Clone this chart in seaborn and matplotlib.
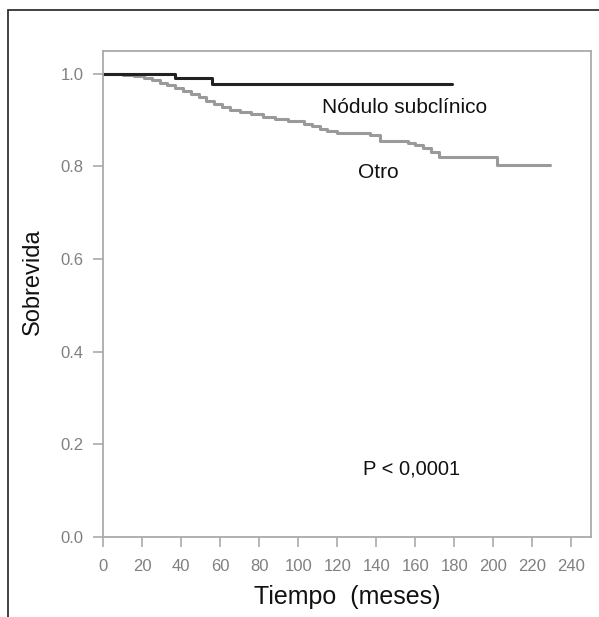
import matplotlib
matplotlib.use("Agg")
import matplotlib.pyplot as plt
from matplotlib.patches import Rectangle
import seaborn as sns
import pandas as pd

# Data
nodulo_t = [0, 37, 56, 179]
nodulo_s = [1.0, 0.991, 0.978, 0.978]

otro_t = [0, 10, 16, 21, 25, 29, 33, 37, 41, 45, 49, 53, 57, 61, 65, 70, 76, 82, 88, 95,
          103, 107, 111, 115, 120, 137, 142, 156, 160, 164, 168, 172, 202, 229]
otro_s = [1.0, 0.998, 0.995, 0.991, 0.986, 0.981, 0.975, 0.969, 0.963, 0.956,
          0.949, 0.942, 0.935, 0.929, 0.923, 0.918, 0.913, 0.907, 0.902, 0.898,
          0.892, 0.887, 0.882, 0.877, 0.873, 0.868, 0.855, 0.851, 0.846, 0.840,
          0.832, 0.820, 0.803, 0.803]

x_ticks = [0, 20, 40, 60, 80, 100, 120, 140, 160, 180, 200, 220, 240]
y_ticks = [0.0, 0.2, 0.4, 0.6, 0.8, 1.0]
y_ticklabels = ["0.0", "0.2", "0.4", "0.6", "0.8", "1.0"]

sns.set_style("ticks")
plt.rcParams["font.family"] = ["Liberation Sans", "DejaVu Sans"]

fig = plt.figure(figsize=(5.99, 6.17), dpi=100)
ax = fig.add_axes([103 / 599, 1 - 537 / 617, (591 - 103) / 599, (537 - 50.7) / 617])

df_n = pd.DataFrame({"t": nodulo_t, "s": nodulo_s})
df_o = pd.DataFrame({"t": otro_t, "s": otro_s})

sns.lineplot(data=df_o, x="t", y="s", ax=ax, color="#9a9a9a", linewidth=2.2,
             drawstyle="steps-post", estimator=None, sort=False)
sns.lineplot(data=df_n, x="t", y="s", ax=ax, color="#222222", linewidth=2.2,
             drawstyle="steps-post", estimator=None, sort=False)

ax.set_xlim(0, 250)
ax.set_ylim(0, 1.05)
ax.set_xticks(x_ticks)
ax.set_yticks(y_ticks)
ax.set_yticklabels(y_ticklabels)

for sp in ax.spines.values():
    sp.set_color("#aaaaaa")
    sp.set_linewidth(1.3)

ax.tick_params(axis="both", colors="#aaaaaa", length=7, width=1.2, labelsize=12,
               labelcolor="#808080")
ax.tick_params(axis="x", pad=9)
ax.tick_params(axis="y", pad=7)

ax.set_xlabel("Tiempo  (meses)", fontsize=18, color="#111111", labelpad=8)
ax.set_ylabel("Sobrevida", fontsize=17, color="#111111")
ax.yaxis.set_label_coords(-0.122, 0.526)

ax.text(112, 0.927, "Nódulo subclínico", fontsize=15, color="#111111",
        ha="left", va="center")
ax.text(141, 0.788, "Otro", fontsize=15, color="#111111", ha="center", va="center")
ax.text(158, 0.147, "P < 0,0001", fontsize=14.5, color="#111111", ha="center", va="center")

# outer frame (left and top edges visible)
fig.add_artist(Rectangle((8 / 599, -0.2), 1.2, 1 - 10 / 617 + 0.2,
                         transform=fig.transFigure, fill=False,
                         edgecolor="#333333", linewidth=1.3, clip_on=False))

fig.savefig("out.png", dpi=100)
